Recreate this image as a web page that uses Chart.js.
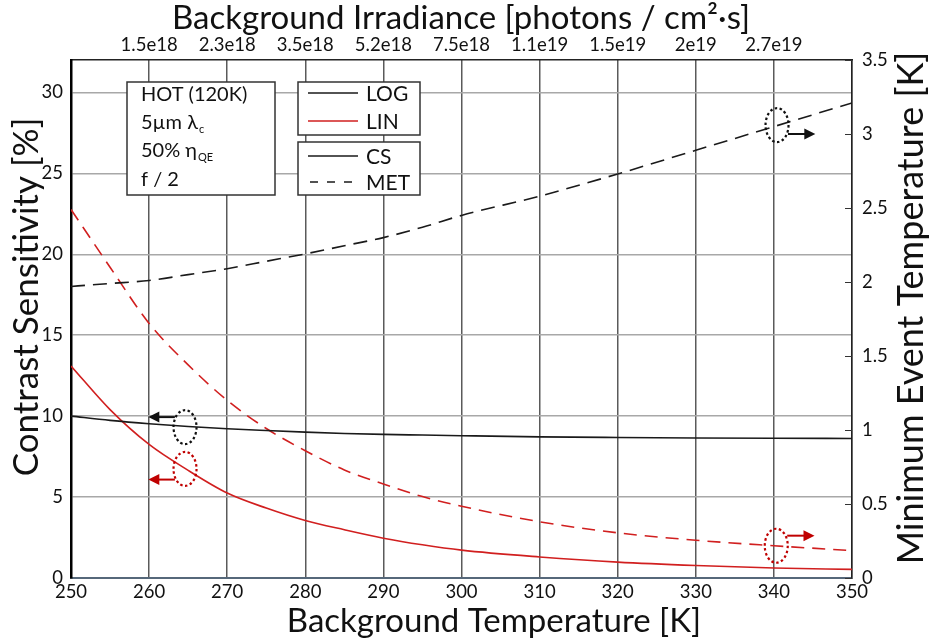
<!DOCTYPE html>
<html>
<head>
<meta charset="utf-8">
<script src="https://cdn.jsdelivr.net/npm/chart.js@4.4.1/dist/chart.umd.min.js"></script>
<style>
  html, body { margin: 0; padding: 0; background: #fff; }
  #wrap { width: 930px; height: 643px; }
</style>
</head>
<body>
<div id="wrap"><canvas id="chart" width="930" height="643"></canvas></div>
<script>
(function () {
  "use strict";

  /* ── Data ─────────────────────────────────── */

  var temps = [250, 255, 260, 265, 270, 275, 280, 285, 290, 295, 300, 310, 320, 330, 340, 350];

  // contrast sensitivity [%], left axis
  var csLog = [10.0, 9.74, 9.53, 9.36, 9.22, 9.11, 9.01, 8.93, 8.87, 8.83, 8.79, 8.72, 8.68, 8.65, 8.63, 8.62];
  var csLin = [13.1, 10.4, 8.25, 6.65, 5.25, 4.32, 3.55, 2.98, 2.46, 2.05, 1.72, 1.30, 0.98, 0.77, 0.62, 0.53];

  // minimum event temperature [K], right axis
  var metLog = [1.97, 1.99, 2.01, 2.05, 2.09, 2.14, 2.19, 2.245, 2.30, 2.37, 2.45, 2.58, 2.73, 2.89, 3.05, 3.21];
  var metLin = [2.49, 2.10, 1.72, 1.44, 1.20, 1.01, 0.86, 0.73, 0.635, 0.55, 0.485, 0.38, 0.305, 0.255, 0.218, 0.185];

  // top axis: irradiance at each grid temperature
  var irrTemps = [260, 270, 280, 290, 300, 310, 320, 330, 340];
  var irrLabels = ["1.5e18", "2.3e18", "3.5e18", "5.2e18", "7.5e18", "1.1e19", "1.5e19", "2e19", "2.7e19"];

  // callouts: ellipse centre (temp, value), arrow (value, from temp, to temp)
  var calloutAxis  = ["y", "y", "y1", "y1"];
  var calloutColor = ["#111111", "#c00000", "#111111", "#c00000"];
  var calloutX     = [264.6, 264.6, 340.4, 340.3];
  var calloutY     = [9.32, 6.74, 3.06, 0.218];
  var arrowY       = [9.94, 6.08, 3.00, 0.286];
  var arrowFrom    = [263.3, 263.3, 341.8, 341.7];
  var arrowTo      = [259.9, 259.9, 345.3, 345.2];

  var RED = "#d11f1f";
  var BLACK = "#1a1a1a";
  var FONT = "Lato, 'Open Sans', sans-serif";

  function pts(ys) {
    return temps.map(function (t, i) { return { x: t, y: ys[i] }; });
  }

  /* ── Decorations ──────────────────────────── */

  function arrow(ctx, x0, x1, y, color) {
    var dir = x1 > x0 ? 1 : -1;
    ctx.save();
    ctx.strokeStyle = color;
    ctx.fillStyle = color;
    ctx.lineWidth = 2;
    ctx.setLineDash([]);
    ctx.beginPath();
    ctx.moveTo(x0, y);
    ctx.lineTo(x1 - dir * 8, y);
    ctx.stroke();
    ctx.beginPath();
    ctx.moveTo(x1, y);
    ctx.lineTo(x1 - dir * 11, y - 5.5);
    ctx.lineTo(x1 - dir * 11, y + 5.5);
    ctx.closePath();
    ctx.fill();
    ctx.restore();
  }

  function box(ctx, x, y, w, h) {
    ctx.save();
    ctx.fillStyle = "#fff";
    ctx.fillRect(x, y, w, h);
    ctx.strokeStyle = "#333";
    ctx.lineWidth = 1.5;
    ctx.strokeRect(x, y, w, h);
    ctx.restore();
  }

  function sample(ctx, x0, x1, y, color, dash) {
    ctx.save();
    ctx.strokeStyle = color;
    ctx.lineWidth = 1.5;
    ctx.setLineDash(dash || []);
    ctx.beginPath();
    ctx.moveTo(x0, y);
    ctx.lineTo(x1, y);
    ctx.stroke();
    ctx.restore();
  }

  function subText(ctx, x, y, main, sub) {
    ctx.font = "20px " + FONT;
    ctx.fillText(main, x, y);
    var w = ctx.measureText(main).width;
    ctx.font = "11px " + FONT;
    ctx.fillText(sub, x + w + 1, y + 6);
  }

  function vtitle(ctx, text, x, y, size) {
    ctx.save();
    ctx.font = size + "px " + FONT;
    ctx.translate(x, y);
    ctx.rotate(-Math.PI / 2);
    ctx.fillText(text, 0, 0);
    ctx.restore();
  }

  var decor = {
    id: "decor",
    afterDraw: function (chart) {
      var ctx = chart.ctx;
      var sx = chart.scales.x;
      var a = chart.chartArea;

      // inner ticks on right axis
      var yr = chart.scales.y1;
      ctx.save();
      ctx.strokeStyle = "#333";
      ctx.lineWidth = 1;
      yr.ticks.forEach(function (t) {
        var py = Math.round(yr.getPixelForValue(t.value)) + 0.5;
        ctx.beginPath();
        ctx.moveTo(a.right - 7, py);
        ctx.lineTo(a.right, py);
        ctx.stroke();
      });
      ctx.restore();

      // callouts
      for (var i = 0; i < calloutX.length; i++) {
        var sy = chart.scales[calloutAxis[i]];
        var cx = sx.getPixelForValue(calloutX[i]);
        var cy = sy.getPixelForValue(calloutY[i]);
        ctx.save();
        ctx.strokeStyle = calloutColor[i];
        ctx.lineWidth = 2.2;
        ctx.setLineDash([2.5, 2.5]);
        ctx.beginPath();
        ctx.ellipse(cx, cy, 11.5, 17, 0, 0, Math.PI * 2);
        ctx.stroke();
        ctx.restore();
        arrow(ctx, sx.getPixelForValue(arrowFrom[i]), sx.getPixelForValue(arrowTo[i]),
          sy.getPixelForValue(arrowY[i]), calloutColor[i]);
      }

      // info box
      box(ctx, 127, 82, 148, 113);
      ctx.save();
      ctx.fillStyle = "#111";
      ctx.textBaseline = "middle";
      ctx.textAlign = "left";
      ctx.font = "20px " + FONT;
      ctx.fillText("HOT (120K)", 141, 95);
      subText(ctx, 141, 123, "5\u00b5m \u03bb", "c");
      subText(ctx, 141, 151, "50% \u03b7", "QE");
      ctx.font = "20px " + FONT;
      ctx.fillText("f / 2", 141, 180);
      ctx.restore();

      // legend boxes
      box(ctx, 298, 82, 122, 53);
      box(ctx, 298, 142, 122, 53);
      sample(ctx, 308, 358, 93, BLACK);
      sample(ctx, 308, 358, 121, RED);
      sample(ctx, 308, 358, 156, BLACK);
      sample(ctx, 310, 358, 182, BLACK, [8, 9]);
      ctx.save();
      ctx.fillStyle = "#111";
      ctx.textBaseline = "middle";
      ctx.font = "21px " + FONT;
      ctx.fillText("LOG", 366, 94);
      ctx.fillText("LIN", 366, 122);
      ctx.fillText("CS", 366, 157);
      ctx.fillText("MET", 366, 183);
      ctx.restore();

      // axis titles
      ctx.save();
      ctx.fillStyle = "#111";
      ctx.textAlign = "center";
      ctx.textBaseline = "middle";
      ctx.font = "33px " + FONT;
      ctx.fillText("Background Irradiance [photons / cm\u00b2\u00b7s]", 461, 18);
      ctx.fillText("Background Temperature [K]", 494, 621);
      vtitle(ctx, "Contrast Sensitivity [%]", 27, 297, 35);
      vtitle(ctx, "Minimum Event Temperature [K]", 911, 308, 36);
      ctx.restore();
    }
  };

  /* ── Chart ────────────────────────────────── */

  var tickFont = { family: FONT, size: 18.5 };

  function line(label, ys, axis, color, dash) {
    return {
      label: label,
      data: pts(ys),
      yAxisID: axis,
      borderColor: color,
      borderWidth: 1.6,
      borderDash: dash || [],
      pointRadius: 0,
      fill: false,
      cubicInterpolationMode: "monotone"
    };
  }

  new Chart(document.getElementById("chart"), {
    type: "line",
    data: {
      datasets: [
        line("CS LOG", csLog, "y", BLACK),
        line("CS LIN", csLin, "y", RED),
        line("MET LOG", metLog, "y1", BLACK, [14, 8]),
        line("MET LIN", metLin, "y1", RED, [13, 8])
      ]
    },
    options: {
      responsive: false,
      animation: false,
      layout: { padding: 0 },
      plugins: { legend: { display: false }, tooltip: { enabled: false } },
      scales: {
        x: {
          type: "linear",
          position: "bottom",
          min: 250, max: 350,
          ticks: { stepSize: 10, color: "#111", font: tickFont, padding: 3, maxRotation: 0 },
          grid: { color: "#5a5a5a", lineWidth: 1.5, drawTicks: false },
          border: { color: "#56687a", width: 2 },
          afterFit: function (s) { s.height = 65; }
        },
        x2: {
          type: "linear",
          position: "top",
          min: 250, max: 350,
          ticks: {
            stepSize: 10, color: "#111", font: tickFont, padding: 4, maxRotation: 0,
            callback: function (v) {
              var i = irrTemps.indexOf(v);
              return i < 0 ? "" : irrLabels[i];
            }
          },
          grid: { display: false, drawTicks: false },
          border: { color: "#222", width: 1.5 },
          afterFit: function (s) { s.height = 60; }
        },
        y: {
          position: "left",
          min: 0, max: 32,
          ticks: { stepSize: 5, color: "#111", font: tickFont, padding: 8 },
          afterBuildTicks: function (s) {
            s.ticks = s.ticks.filter(function (t) { return t.value % 5 === 0; });
          },
          grid: { color: "#a8a8a8", lineWidth: 1.5, drawTicks: false },
          border: { color: "#000", width: 2.5 },
          afterFit: function (s) { s.width = 71; }
        },
        y1: {
          position: "right",
          min: 0, max: 3.5,
          ticks: {
            stepSize: 0.5, color: "#111", font: tickFont, padding: 10,
            callback: function (v) { return String(Math.round(v * 10) / 10); }
          },
          grid: { display: false, drawTicks: false },
          border: { color: "#222", width: 1.5 },
          afterFit: function (s) { s.width = 78; }
        }
      }
    },
    plugins: [decor]
  });
})();
</script>
</body>
</html>
